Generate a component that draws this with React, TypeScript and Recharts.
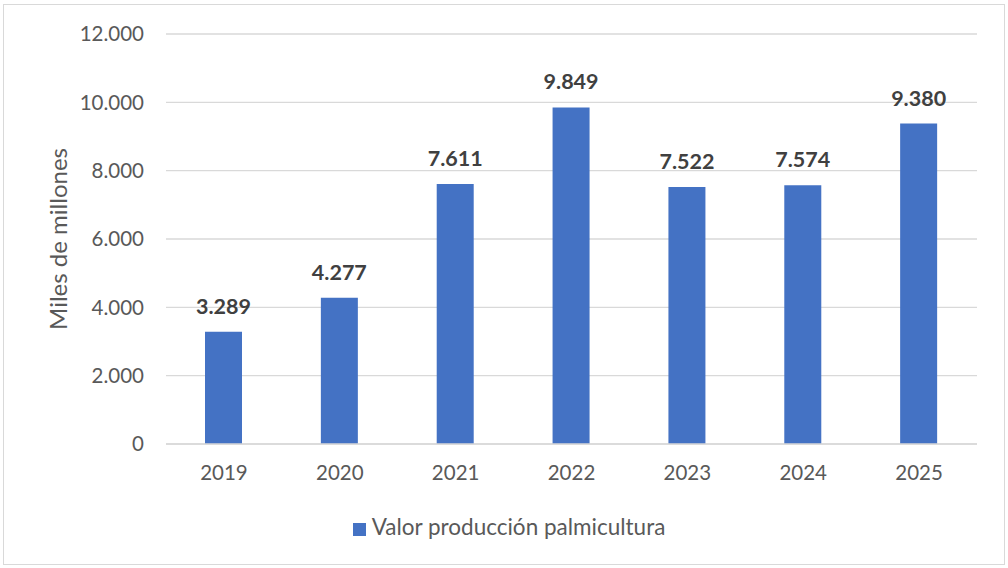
import React from 'react';
import { BarChart, Bar, XAxis, YAxis, CartesianGrid, Legend, LabelList } from 'recharts';

const years = ['2019', '2020', '2021', '2022', '2023', '2024', '2025'];
const valores = [3289, 4277, 7611, 9849, 7522, 7574, 9380];
const yTicks = [0, 2000, 4000, 6000, 8000, 10000, 12000];
const seriesName = 'Valor producción palmicultura';
const yLabel = 'Miles de millones';

const data = years.map((y, i) => ({ year: y, valor: valores[i] }));

const fmt = (v: number) => v.toLocaleString('de-DE');

const YLabel = (props: any) => {
  const vb = props.viewBox || {};
  const cx = 57;
  const cy = vb.y + vb.height / 2;
  return (
    <text x={cx} y={cy} transform={`rotate(-90 ${cx} ${cy})`} textAnchor="middle" dominantBaseline="central" fill="#595959" fontSize={24}>
      {yLabel}
    </text>
  );
};

export default function App() {
  return (
    <div style={{ position: 'absolute', left: 0, top: 0, width: 1008, height: 568, fontFamily: 'Lato, sans-serif', background: '#fff' }}>
      <div style={{ position: 'absolute', left: 3, top: 4, width: 1000, height: 559, border: '1px solid #D9D9D9' }} />
      <BarChart width={1008} height={568} data={data} margin={{ top: 34, right: 31, bottom: 64, left: 0 }}>
        <CartesianGrid vertical={false} stroke="#D9D9D9" strokeWidth={1.3} />
        <XAxis dataKey="year" height={30} tickLine={false} axisLine={{ stroke: '#D9D9D9', strokeWidth: 1.3 }} tickSize={0} tickMargin={21} tick={{ fill: '#595959', fontSize: 20.5 }} />
        <YAxis width={166} domain={[0, 12000]} ticks={yTicks} tickFormatter={fmt} axisLine={false} tickLine={false} tickSize={0} tickMargin={22} tick={{ fill: '#595959', fontSize: 20.5 }} label={<YLabel />} />
        <Legend
          iconType="square"
          iconSize={13}
          height={30}
          wrapperStyle={{ top: 513, left: 10, width: 1008, fontSize: 22.5 }}
          formatter={(v: any) => <span style={{ color: '#595959', marginLeft: 2 }}>{v}</span>}
        />
        <Bar dataKey="valor" name={seriesName} fill="#4472C4" barSize={37} isAnimationActive={false}>
          <LabelList dataKey="valor" position="top" offset={18} formatter={(v: any) => fmt(Number(v))} fill="#404040" fontSize={21.5} fontWeight="bold" />
        </Bar>
      </BarChart>
    </div>
  );
}
